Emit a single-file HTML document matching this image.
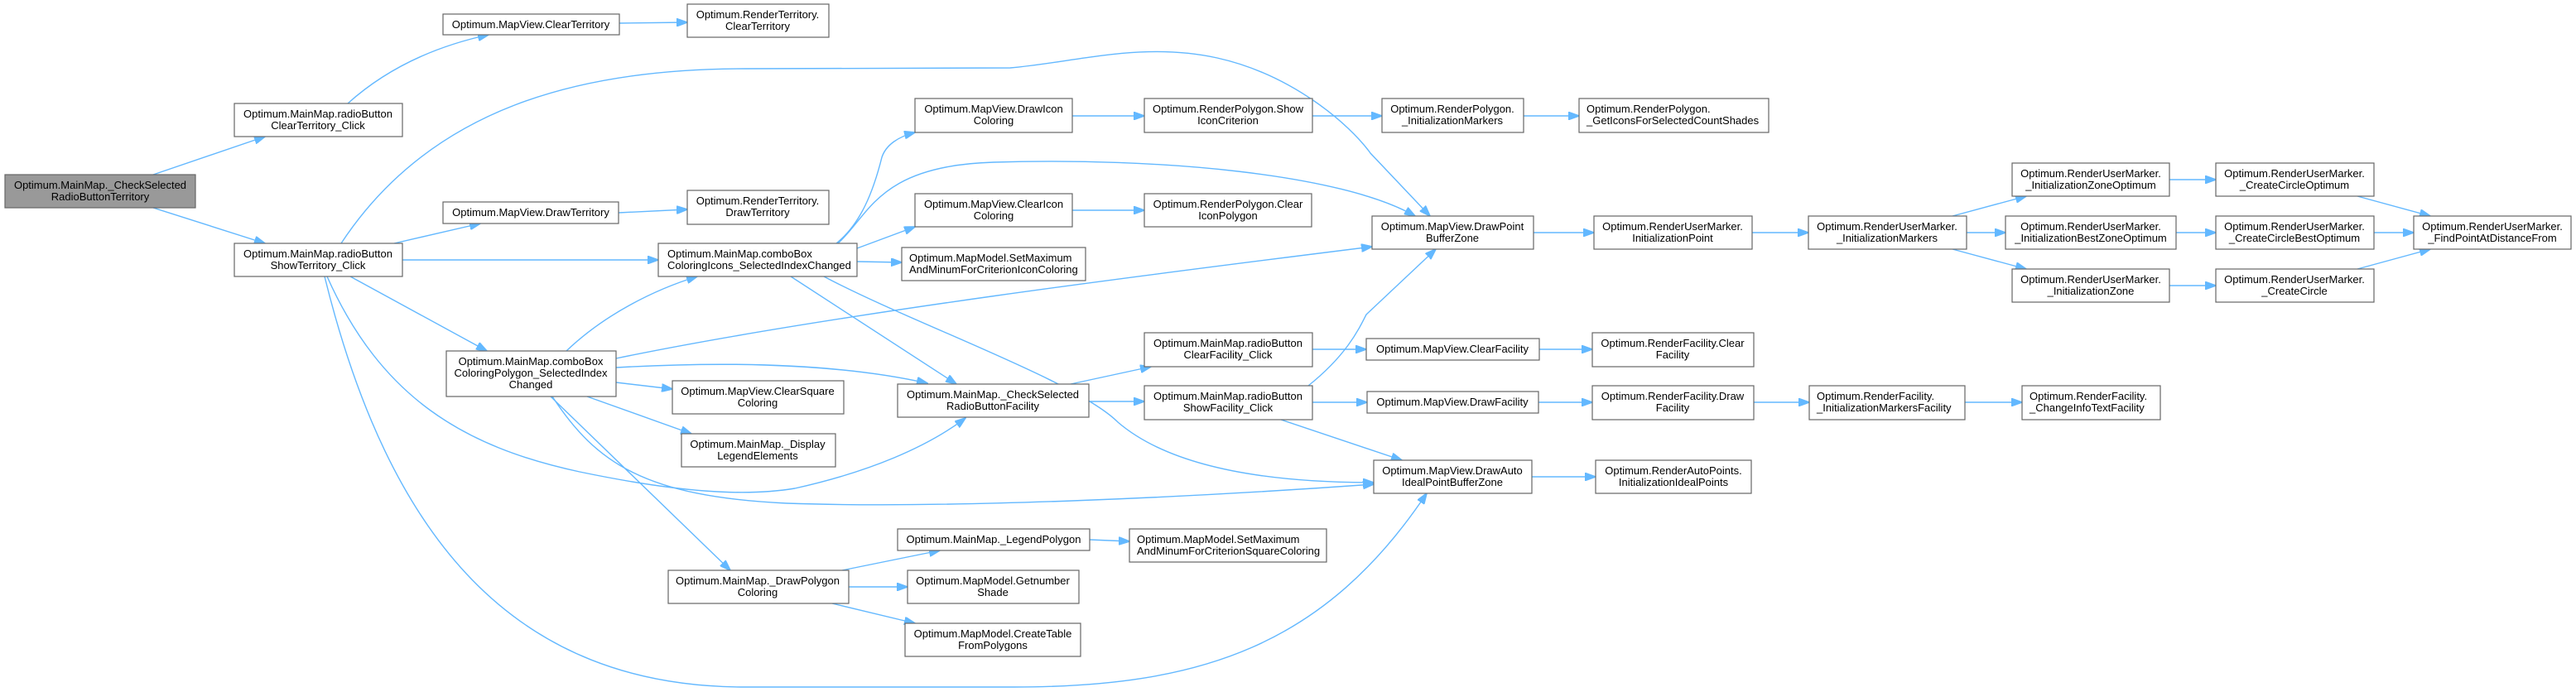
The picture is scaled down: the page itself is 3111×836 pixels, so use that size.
<!DOCTYPE html>
<html><head><meta charset="utf-8"><style>
html,body{margin:0;padding:0;background:#fff;}
svg{display:block;}
text{font-family:"Liberation Sans",Arial,sans-serif;font-size:13px;fill:#000;}
.n{fill:#fff;stroke:#666;stroke-width:1.2;}
.r{fill:#999;stroke:#666;stroke-width:1.2;}
.e{fill:none;stroke:#63b8ff;stroke-width:1.4;}
</style></head><body>
<svg width="3111" height="836" viewBox="0 0 3111 836" xmlns="http://www.w3.org/2000/svg">
<defs><marker id="a" markerWidth="14" markerHeight="10" refX="13" refY="5" orient="auto" markerUnits="userSpaceOnUse"><path d="M0,0 L14,5 L0,10 z" fill="#63b8ff" stroke="#63b8ff"/></marker></defs>
<g marker-end="url(#a)">
<path class="e" d="M185,211 L320,165"/>
<path class="e" d="M185,251 L320,294"/>
<path class="e" d="M420,125 C470,80 530,55 590,42"/>
<path class="e" d="M748,28 L830,27"/>
<path class="e" d="M412,294 C520,130 700,83 900,83 L1220,82 C1300,75 1380,50 1470,70 C1560,90 1630,150 1655,185 L1727,261"/>
<path class="e" d="M476,294 L580,270"/>
<path class="e" d="M747,257 L830,253"/>
<path class="e" d="M486,314 L795,314"/>
<path class="e" d="M423,334 L588,424"/>
<path class="e" d="M395,334 C460,480 560,540 700,570 C820,595 900,600 960,590 C1050,570 1120,540 1166,505"/>
<path class="e" d="M392,334 C470,650 620,830 900,830 L1225,830 C1450,830 1600,780 1723,596"/>
<path class="e" d="M1010,294 C1040,270 1055,230 1065,190 C1070,175 1085,165 1105,160"/>
<path class="e" d="M1012,294 C1050,260 1060,200 1200,196 C1400,190 1620,210 1709,261"/>
<path class="e" d="M1035,300 L1105,274"/>
<path class="e" d="M1035,316 L1089,317"/>
<path class="e" d="M955,334 L1155,464"/>
<path class="e" d="M995,334 C1100,390 1300,460 1350,510 C1420,570 1550,583 1659,583"/>
<path class="e" d="M1295,140 L1382,140"/>
<path class="e" d="M1585,140 L1669,140"/>
<path class="e" d="M1840,140 L1907,140"/>
<path class="e" d="M1295,254 L1382,254"/>
<path class="e" d="M1852,281 L1925,281"/>
<path class="e" d="M2116,281 L2184,281"/>
<path class="e" d="M2358,261 L2447,237"/>
<path class="e" d="M2375,281 L2422,281"/>
<path class="e" d="M2358,301 L2447,325"/>
<path class="e" d="M2620,217 L2676,217"/>
<path class="e" d="M2628,281 L2676,281"/>
<path class="e" d="M2620,345 L2676,345"/>
<path class="e" d="M2847,237 L2935,261"/>
<path class="e" d="M2867,281 L2915,281"/>
<path class="e" d="M2847,325 L2935,301"/>
<path class="e" d="M684,424 C730,380 790,350 842,334"/>
<path class="e" d="M744,433 C1000,380 1400,330 1657,298"/>
<path class="e" d="M744,444 C850,438 1000,436 1120,463"/>
<path class="e" d="M744,462 L812,470"/>
<path class="e" d="M709,479 L835,524"/>
<path class="e" d="M665,479 L882,689"/>
<path class="e" d="M667,479 C720,560 780,600 950,608 C1150,615 1450,600 1659,585"/>
<path class="e" d="M1017,689 L1135,665"/>
<path class="e" d="M1025,709 L1096,709"/>
<path class="e" d="M1005,729 L1105,753"/>
<path class="e" d="M1316,652 L1364,654"/>
<path class="e" d="M1293,464 L1390,443"/>
<path class="e" d="M1315,485 L1382,485"/>
<path class="e" d="M1585,422 L1650,422"/>
<path class="e" d="M1585,486 L1651,486"/>
<path class="e" d="M1547,507 L1693,556"/>
<path class="e" d="M1580,466 C1625,430 1640,400 1650,380 L1734,301"/>
<path class="e" d="M1859,422 L1923,422"/>
<path class="e" d="M1858,486 L1923,486"/>
<path class="e" d="M2118,486 L2185,486"/>
<path class="e" d="M2373,486 L2442,486"/>
<path class="e" d="M1850,576 L1927,576"/>
</g>

<rect class="r" x="6" y="211" width="230" height="40"/>
<text x="121" y="228" text-anchor="middle">Optimum.MainMap._CheckSelected</text><text x="121" y="242" text-anchor="middle">RadioButtonTerritory</text>

<rect class="n" x="283" y="125" width="203" height="40"/>
<text x="384" y="142" text-anchor="middle">Optimum.MainMap.radioButton</text><text x="384" y="156" text-anchor="middle">ClearTerritory_Click</text>

<rect class="n" x="283" y="294" width="203" height="40"/>
<text x="384" y="311" text-anchor="middle">Optimum.MainMap.radioButton</text><text x="384" y="325" text-anchor="middle">ShowTerritory_Click</text>

<rect class="n" x="535" y="17" width="213" height="25"/>
<text x="641" y="34" text-anchor="middle">Optimum.MapView.ClearTerritory</text>

<rect class="n" x="830" y="5" width="171" height="40"/>
<text x="915" y="22" text-anchor="middle">Optimum.RenderTerritory.</text><text x="915" y="36" text-anchor="middle">ClearTerritory</text>

<rect class="n" x="535" y="244" width="212" height="26"/>
<text x="641" y="261" text-anchor="middle">Optimum.MapView.DrawTerritory</text>

<rect class="n" x="830" y="230" width="171" height="41"/>
<text x="915" y="247" text-anchor="middle">Optimum.RenderTerritory.</text><text x="915" y="261" text-anchor="middle">DrawTerritory</text>

<rect class="n" x="795" y="294" width="240" height="40"/>
<text x="806" y="311">Optimum.MainMap.comboBox</text><text x="806" y="325">ColoringIcons_SelectedIndexChanged</text>

<rect class="n" x="539" y="424" width="205" height="55"/>
<text x="641" y="441" text-anchor="middle">Optimum.MainMap.comboBox</text><text x="641" y="455" text-anchor="middle">ColoringPolygon_SelectedIndex</text><text x="641" y="469" text-anchor="middle">Changed</text>

<rect class="n" x="812" y="460" width="207" height="40"/>
<text x="915" y="477" text-anchor="middle">Optimum.MapView.ClearSquare</text><text x="915" y="491" text-anchor="middle">Coloring</text>

<rect class="n" x="823" y="524" width="186" height="40"/>
<text x="915" y="541" text-anchor="middle">Optimum.MainMap._Display</text><text x="915" y="555" text-anchor="middle">LegendElements</text>

<rect class="n" x="807" y="689" width="218" height="40"/>
<text x="915" y="706" text-anchor="middle">Optimum.MainMap._DrawPolygon</text><text x="915" y="720" text-anchor="middle">Coloring</text>

<rect class="n" x="1105" y="119" width="190" height="41"/>
<text x="1200" y="136" text-anchor="middle">Optimum.MapView.DrawIcon</text><text x="1200" y="150" text-anchor="middle">Coloring</text>

<rect class="n" x="1382" y="119" width="203" height="41"/>
<text x="1483" y="136" text-anchor="middle">Optimum.RenderPolygon.Show</text><text x="1483" y="150" text-anchor="middle">IconCriterion</text>

<rect class="n" x="1669" y="119" width="171" height="41"/>
<text x="1754" y="136" text-anchor="middle">Optimum.RenderPolygon.</text><text x="1754" y="150" text-anchor="middle">_InitializationMarkers</text>

<rect class="n" x="1907" y="119" width="229" height="41"/>
<text x="1916" y="136">Optimum.RenderPolygon.</text><text x="1916" y="150">_GetIconsForSelectedCountShades</text>

<rect class="n" x="1105" y="234" width="190" height="40"/>
<text x="1200" y="251" text-anchor="middle">Optimum.MapView.ClearIcon</text><text x="1200" y="265" text-anchor="middle">Coloring</text>

<rect class="n" x="1382" y="234" width="202" height="40"/>
<text x="1483" y="251" text-anchor="middle">Optimum.RenderPolygon.Clear</text><text x="1483" y="265" text-anchor="middle">IconPolygon</text>

<rect class="n" x="1089" y="299" width="222" height="40"/>
<text x="1098" y="316">Optimum.MapModel.SetMaximum</text><text x="1098" y="330">AndMinumForCriterionIconColoring</text>

<rect class="n" x="1657" y="261" width="195" height="40"/>
<text x="1754" y="278" text-anchor="middle">Optimum.MapView.DrawPoint</text><text x="1754" y="292" text-anchor="middle">BufferZone</text>

<rect class="n" x="1925" y="261" width="191" height="40"/>
<text x="2020" y="278" text-anchor="middle">Optimum.RenderUserMarker.</text><text x="2020" y="292" text-anchor="middle">InitializationPoint</text>

<rect class="n" x="1084" y="464" width="231" height="40"/>
<text x="1199" y="481" text-anchor="middle">Optimum.MainMap._CheckSelected</text><text x="1199" y="495" text-anchor="middle">RadioButtonFacility</text>

<rect class="n" x="1382" y="402" width="203" height="41"/>
<text x="1483" y="419" text-anchor="middle">Optimum.MainMap.radioButton</text><text x="1483" y="433" text-anchor="middle">ClearFacility_Click</text>

<rect class="n" x="1382" y="466" width="203" height="41"/>
<text x="1483" y="483" text-anchor="middle">Optimum.MainMap.radioButton</text><text x="1483" y="497" text-anchor="middle">ShowFacility_Click</text>

<rect class="n" x="1650" y="409" width="209" height="26"/>
<text x="1754" y="426" text-anchor="middle">Optimum.MapView.ClearFacility</text>

<rect class="n" x="1923" y="402" width="195" height="41"/>
<text x="2020" y="419" text-anchor="middle">Optimum.RenderFacility.Clear</text><text x="2020" y="433" text-anchor="middle">Facility</text>

<rect class="n" x="1651" y="473" width="207" height="26"/>
<text x="1754" y="490" text-anchor="middle">Optimum.MapView.DrawFacility</text>

<rect class="n" x="1923" y="466" width="195" height="41"/>
<text x="2020" y="483" text-anchor="middle">Optimum.RenderFacility.Draw</text><text x="2020" y="497" text-anchor="middle">Facility</text>

<rect class="n" x="1659" y="556" width="191" height="40"/>
<text x="1754" y="573" text-anchor="middle">Optimum.MapView.DrawAuto</text><text x="1754" y="587" text-anchor="middle">IdealPointBufferZone</text>

<rect class="n" x="1927" y="556" width="188" height="40"/>
<text x="2021" y="573" text-anchor="middle">Optimum.RenderAutoPoints.</text><text x="2021" y="587" text-anchor="middle">InitializationIdealPoints</text>

<rect class="n" x="1084" y="639" width="232" height="26"/>
<text x="1200" y="656" text-anchor="middle">Optimum.MainMap._LegendPolygon</text>

<rect class="n" x="1364" y="639" width="238" height="40"/>
<text x="1373" y="656">Optimum.MapModel.SetMaximum</text><text x="1373" y="670">AndMinumForCriterionSquareColoring</text>

<rect class="n" x="1096" y="689" width="207" height="40"/>
<text x="1199" y="706" text-anchor="middle">Optimum.MapModel.Getnumber</text><text x="1199" y="720" text-anchor="middle">Shade</text>

<rect class="n" x="1093" y="753" width="212" height="40"/>
<text x="1199" y="770" text-anchor="middle">Optimum.MapModel.CreateTable</text><text x="1199" y="784" text-anchor="middle">FromPolygons</text>

<rect class="n" x="2184" y="261" width="191" height="40"/>
<text x="2279" y="278" text-anchor="middle">Optimum.RenderUserMarker.</text><text x="2279" y="292" text-anchor="middle">_InitializationMarkers</text>

<rect class="n" x="2430" y="197" width="190" height="40"/>
<text x="2525" y="214" text-anchor="middle">Optimum.RenderUserMarker.</text><text x="2525" y="228" text-anchor="middle">_InitializationZoneOptimum</text>

<rect class="n" x="2422" y="261" width="206" height="40"/>
<text x="2525" y="278" text-anchor="middle">Optimum.RenderUserMarker.</text><text x="2525" y="292" text-anchor="middle">_InitializationBestZoneOptimum</text>

<rect class="n" x="2430" y="325" width="190" height="40"/>
<text x="2525" y="342" text-anchor="middle">Optimum.RenderUserMarker.</text><text x="2525" y="356" text-anchor="middle">_InitializationZone</text>

<rect class="n" x="2676" y="197" width="191" height="40"/>
<text x="2771" y="214" text-anchor="middle">Optimum.RenderUserMarker.</text><text x="2771" y="228" text-anchor="middle">_CreateCircleOptimum</text>

<rect class="n" x="2676" y="261" width="191" height="40"/>
<text x="2771" y="278" text-anchor="middle">Optimum.RenderUserMarker.</text><text x="2771" y="292" text-anchor="middle">_CreateCircleBestOptimum</text>

<rect class="n" x="2676" y="325" width="191" height="40"/>
<text x="2771" y="342" text-anchor="middle">Optimum.RenderUserMarker.</text><text x="2771" y="356" text-anchor="middle">_CreateCircle</text>

<rect class="n" x="2915" y="261" width="190" height="40"/>
<text x="3010" y="278" text-anchor="middle">Optimum.RenderUserMarker.</text><text x="3010" y="292" text-anchor="middle">_FindPointAtDistanceFrom</text>

<rect class="n" x="2185" y="466" width="188" height="41"/>
<text x="2194" y="483">Optimum.RenderFacility.</text><text x="2194" y="497">_InitializationMarkersFacility</text>

<rect class="n" x="2442" y="466" width="167" height="41"/>
<text x="2451" y="483">Optimum.RenderFacility.</text><text x="2451" y="497">_ChangeInfoTextFacility</text>
</svg>
</body></html>
